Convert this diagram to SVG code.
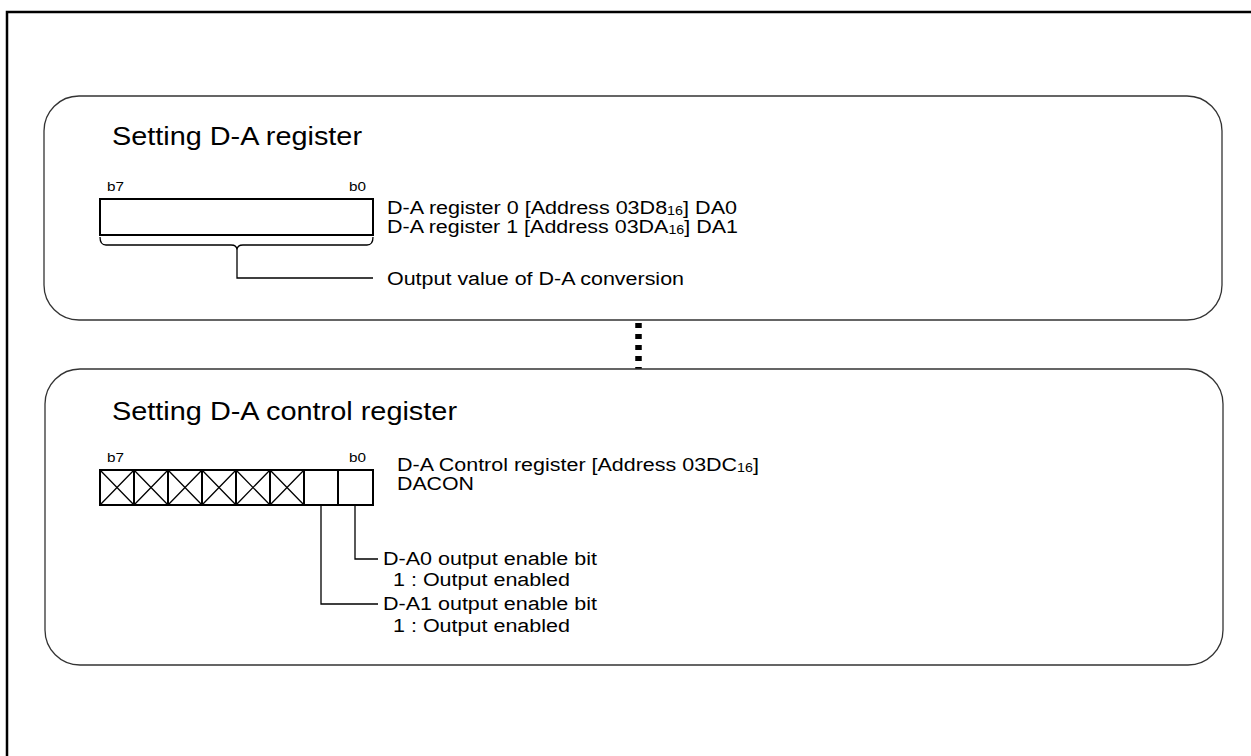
<svg xmlns="http://www.w3.org/2000/svg" width="1251" height="756" viewBox="0 0 1251 756">
<style>
text{font-family:"Liberation Sans",Arial,sans-serif;fill:#000}
.title{font-size:25px}
.lbl{font-size:18px}
.bit{font-size:13.5px}
.sub{font-size:12px}
.panel{fill:#fff;stroke:#333;stroke-width:1.3}
.reg{fill:#fff;stroke:#000;stroke-width:2}
.ln{fill:none;stroke:#000;stroke-width:1.3}
.div{stroke:#000;stroke-width:2}
</style>
<rect width="1251" height="756" fill="#fff"/>
<rect x="7" y="12" width="1260" height="760" fill="none" stroke="#000" stroke-width="2.5"/>
<g id="connectors">
<line x1="638.5" y1="323" x2="638.5" y2="369" stroke="#000" stroke-width="6.5" stroke-dasharray="5,6"/>
</g>
<g id="panel-da">
<rect class="panel" x="44" y="96" width="1178" height="224" rx="35" ry="35"/>
<text class="title" x="112" y="145" textLength="250" lengthAdjust="spacingAndGlyphs">Setting D-A register</text>
<text class="bit" x="107" y="191" textLength="17" lengthAdjust="spacingAndGlyphs">b7</text>
<text class="bit" x="349" y="191" textLength="17" lengthAdjust="spacingAndGlyphs">b0</text>
<rect class="reg" x="100" y="199" width="273" height="36"/>
<path class="ln" d="M100,237 Q100,245 106,245 L231,245 Q237,245 237,250 Q237,245 243,245 L367,245 Q373,245 373,237"/>
<path class="ln" d="M237,250 L237,278 L373,278"/>
<text class="lbl" x="387" y="214" textLength="350" lengthAdjust="spacingAndGlyphs">D-A register 0 [Address 03D8<tspan class="sub" dy="1">16</tspan><tspan dy="-1">] DA0</tspan></text>
<text class="lbl" x="387" y="233" textLength="351" lengthAdjust="spacingAndGlyphs">D-A register 1 [Address 03DA<tspan class="sub" dy="1">16</tspan><tspan dy="-1">] DA1</tspan></text>
<text class="lbl" x="387" y="285" textLength="297" lengthAdjust="spacingAndGlyphs">Output value of D-A conversion</text>
</g>
<g id="panel-dacon">
<rect class="panel" x="45" y="369" width="1178" height="296" rx="35" ry="35"/>
<text class="title" x="112" y="420" textLength="345" lengthAdjust="spacingAndGlyphs">Setting D-A control register</text>
<text class="bit" x="107" y="462" textLength="17" lengthAdjust="spacingAndGlyphs">b7</text>
<text class="bit" x="349" y="462" textLength="17" lengthAdjust="spacingAndGlyphs">b0</text>
<rect class="reg" x="100" y="470" width="273" height="35"/>
<path class="div" d="M134,470V505M168,470V505M202,470V505M236,470V505M270,470V505M304,470V505M338,470V505"/>
<path class="ln" d="M100,470 L134,505 M134,470 L100,505 M134,470 L168,505 M168,470 L134,505 M168,470 L202,505 M202,470 L168,505 M202,470 L236,505 M236,470 L202,505 M236,470 L270,505 M270,470 L236,505 M270,470 L304,505 M304,470 L270,505"/>
<path class="ln" d="M355,505 L355,559 L378,559"/>
<path class="ln" d="M321,505 L321,604 L378,604"/>
<text class="lbl" x="397" y="471" textLength="362" lengthAdjust="spacingAndGlyphs">D-A Control register [Address 03DC<tspan class="sub" dy="1">16</tspan><tspan dy="-1">]</tspan></text>
<text class="lbl" x="397" y="490" textLength="77" lengthAdjust="spacingAndGlyphs">DACON</text>
<text class="lbl" x="383" y="565" textLength="214" lengthAdjust="spacingAndGlyphs">D-A0 output enable bit</text>
<text class="lbl" x="393" y="586" textLength="177" lengthAdjust="spacingAndGlyphs">1 : Output enabled</text>
<text class="lbl" x="383" y="610" textLength="214" lengthAdjust="spacingAndGlyphs">D-A1 output enable bit</text>
<text class="lbl" x="393" y="632" textLength="177" lengthAdjust="spacingAndGlyphs">1 : Output enabled</text>
</g>
</svg>
